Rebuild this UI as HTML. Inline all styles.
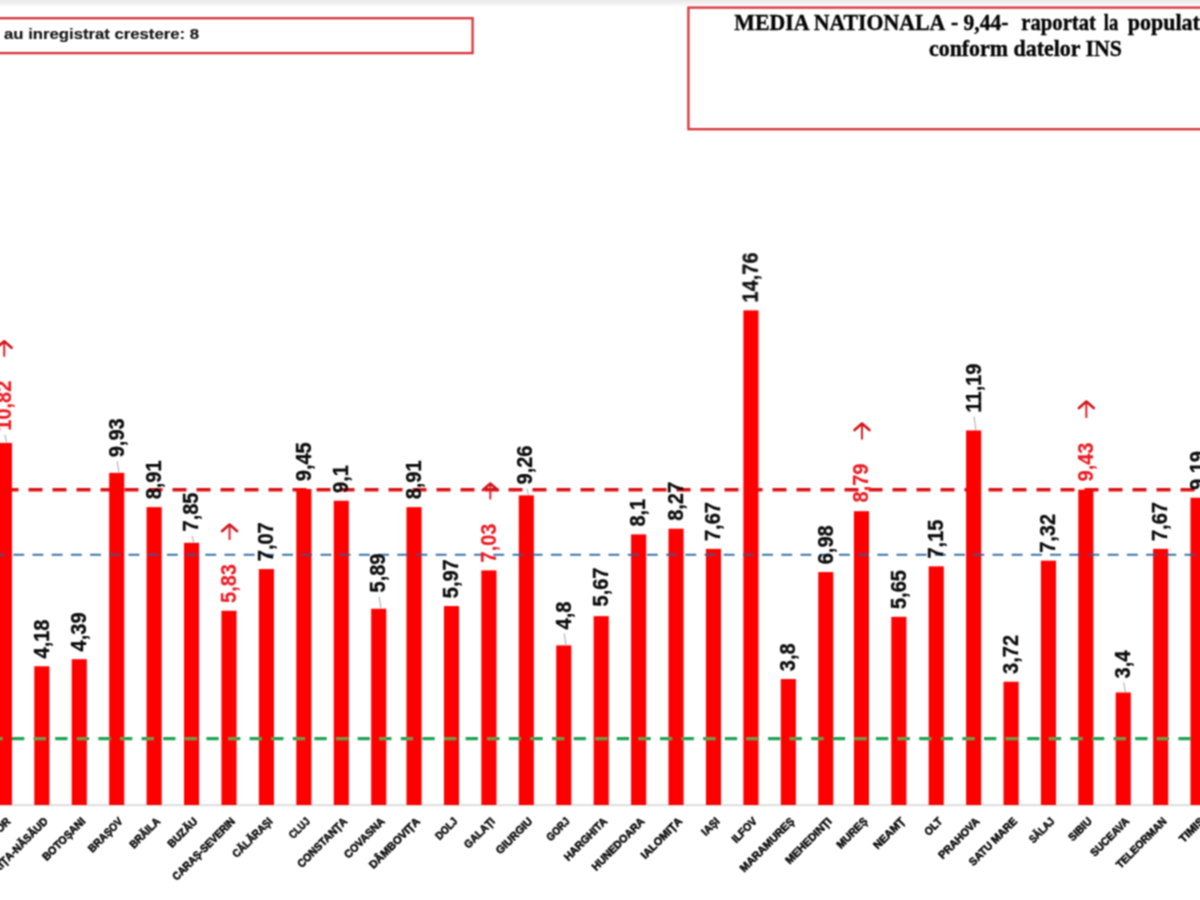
<!DOCTYPE html>
<html lang="ro"><head><meta charset="utf-8"><title>Grafic incidenta judete</title>
<style>
html,body{margin:0;padding:0;background:#fff;}
body{width:1200px;height:900px;overflow:hidden;position:relative;font-family:"Liberation Sans",sans-serif;}
svg{position:absolute;left:0;top:0;display:block;}
.v{font-family:"Liberation Sans",sans-serif;font-weight:bold;font-size:20px;fill:#0c0c0c;stroke:#0c0c0c;stroke-width:0.3;paint-order:stroke;}
.vr{fill:#ea1c24;stroke:#ea1c24;stroke-width:0.15;}
.x{font-family:"Liberation Sans",sans-serif;font-weight:bold;font-size:11px;fill:#0a0a0a;stroke:#0a0a0a;stroke-width:0.55;}
.t1{font-family:"Liberation Serif",serif;font-weight:bold;font-size:22px;fill:#050505;stroke:#050505;stroke-width:0.35;}
.t0{font-family:"Liberation Sans",sans-serif;font-weight:bold;font-size:15px;fill:#141414;stroke:#141414;stroke-width:0.15;}
</style></head><body>
<svg width="1200" height="900" viewBox="0 0 1200 900">
<defs><linearGradient id="tg" x1="0" y1="0" x2="0" y2="1"><stop offset="0" stop-color="#e9e9e9"/><stop offset="0.55" stop-color="#f3f3f3"/><stop offset="1" stop-color="#ffffff"/></linearGradient>
<clipPath id="bc">
<rect x="-3.13" y="442.91" width="15.10" height="362.09"/>
<rect x="34.30" y="666.26" width="15.10" height="138.74"/>
<rect x="71.73" y="659.19" width="15.10" height="145.81"/>
<rect x="109.16" y="472.84" width="15.10" height="332.16"/>
<rect x="146.59" y="507.15" width="15.10" height="297.85"/>
<rect x="184.02" y="542.81" width="15.10" height="262.19"/>
<rect x="221.45" y="610.76" width="15.10" height="194.24"/>
<rect x="258.88" y="569.05" width="15.10" height="235.95"/>
<rect x="296.31" y="488.99" width="15.10" height="316.01"/>
<rect x="333.74" y="500.76" width="15.10" height="304.24"/>
<rect x="371.17" y="608.74" width="15.10" height="196.26"/>
<rect x="406.50" y="507.15" width="15.10" height="297.85"/>
<rect x="443.93" y="606.05" width="15.10" height="198.95"/>
<rect x="481.36" y="570.39" width="15.10" height="234.61"/>
<rect x="518.79" y="495.38" width="15.10" height="309.62"/>
<rect x="556.22" y="645.40" width="15.10" height="159.60"/>
<rect x="593.65" y="616.14" width="15.10" height="188.86"/>
<rect x="631.08" y="534.40" width="15.10" height="270.60"/>
<rect x="668.51" y="528.68" width="15.10" height="276.32"/>
<rect x="705.94" y="548.86" width="15.10" height="256.14"/>
<rect x="743.37" y="310.38" width="15.10" height="494.62"/>
<rect x="780.80" y="679.04" width="15.10" height="125.96"/>
<rect x="818.23" y="572.07" width="15.10" height="232.93"/>
<rect x="853.90" y="511.19" width="15.10" height="293.81"/>
<rect x="891.30" y="616.81" width="15.10" height="188.19"/>
<rect x="928.70" y="566.36" width="15.10" height="238.64"/>
<rect x="966.10" y="430.46" width="15.10" height="374.54"/>
<rect x="1003.50" y="681.73" width="15.10" height="123.27"/>
<rect x="1040.90" y="560.64" width="15.10" height="244.36"/>
<rect x="1078.30" y="489.66" width="15.10" height="315.34"/>
<rect x="1115.70" y="692.49" width="15.10" height="112.51"/>
<rect x="1153.10" y="548.86" width="15.10" height="256.14"/>
<rect x="1190.50" y="497.74" width="15.10" height="307.26"/>
</clipPath>
<filter id="bl" filterUnits="userSpaceOnUse" x="0" y="0" width="1200" height="900" color-interpolation-filters="sRGB"><feConvolveMatrix order="3" kernelMatrix="1 2 1 2 4 2 1 2 1" edgeMode="duplicate" preserveAlpha="false"/></filter>
</defs>
<rect x="0" y="0" width="1200" height="900" fill="#ffffff"/>
<rect x="0" y="0" width="1200" height="7" fill="url(#tg)"/>
<g filter="url(#bl)">
<rect x="-20" y="18.2" width="492.6" height="34.9" fill="#fff" stroke="#d6333a" stroke-width="2.3"/>
<rect x="688.4" y="7.6" width="700" height="121.6" fill="#fff" stroke="#d6333a" stroke-width="2.3"/>
<text class="t0" x="4.0" y="39.1" textLength="195" lengthAdjust="spacingAndGlyphs">au inregistrat crestere: 8</text>
<g transform="translate(0,30.3) scale(1,1.08)">
<text class="t1" x="734.3" y="0" textLength="211" lengthAdjust="spacingAndGlyphs">MEDIA NATIONALA</text>
<text class="t1" x="951" y="0" textLength="57.5" lengthAdjust="spacingAndGlyphs">- 9,44-</text>
<text class="t1" x="1021.3" y="0" textLength="74.7" lengthAdjust="spacingAndGlyphs">raportat</text>
<text class="t1" x="1103.8" y="0" textLength="14.4" lengthAdjust="spacingAndGlyphs">la</text>
<text class="t1" x="1127.7" y="0" textLength="89.3" lengthAdjust="spacingAndGlyphs">populatia</text>
</g>
<g transform="translate(0,55.6) scale(1,1.08)">
<text class="t1" x="929" y="0" textLength="193" lengthAdjust="spacingAndGlyphs">conform datelor INS</text>
</g>
<rect x="0" y="804.3" width="1200" height="1.6" fill="#d6d6d6"/>
<line x1="-19.50" y1="489.70" x2="1230" y2="489.70" stroke="#dc1317" stroke-width="3.50" stroke-dasharray="14.00 10.00" />
<g fill="#fe0000">
<rect x="-3.13" y="442.91" width="15.10" height="362.09"/>
<rect x="34.30" y="666.26" width="15.10" height="138.74"/>
<rect x="71.73" y="659.19" width="15.10" height="145.81"/>
<rect x="109.16" y="472.84" width="15.10" height="332.16"/>
<rect x="146.59" y="507.15" width="15.10" height="297.85"/>
<rect x="184.02" y="542.81" width="15.10" height="262.19"/>
<rect x="221.45" y="610.76" width="15.10" height="194.24"/>
<rect x="258.88" y="569.05" width="15.10" height="235.95"/>
<rect x="296.31" y="488.99" width="15.10" height="316.01"/>
<rect x="333.74" y="500.76" width="15.10" height="304.24"/>
<rect x="371.17" y="608.74" width="15.10" height="196.26"/>
<rect x="406.50" y="507.15" width="15.10" height="297.85"/>
<rect x="443.93" y="606.05" width="15.10" height="198.95"/>
<rect x="481.36" y="570.39" width="15.10" height="234.61"/>
<rect x="518.79" y="495.38" width="15.10" height="309.62"/>
<rect x="556.22" y="645.40" width="15.10" height="159.60"/>
<rect x="593.65" y="616.14" width="15.10" height="188.86"/>
<rect x="631.08" y="534.40" width="15.10" height="270.60"/>
<rect x="668.51" y="528.68" width="15.10" height="276.32"/>
<rect x="705.94" y="548.86" width="15.10" height="256.14"/>
<rect x="743.37" y="310.38" width="15.10" height="494.62"/>
<rect x="780.80" y="679.04" width="15.10" height="125.96"/>
<rect x="818.23" y="572.07" width="15.10" height="232.93"/>
<rect x="853.90" y="511.19" width="15.10" height="293.81"/>
<rect x="891.30" y="616.81" width="15.10" height="188.19"/>
<rect x="928.70" y="566.36" width="15.10" height="238.64"/>
<rect x="966.10" y="430.46" width="15.10" height="374.54"/>
<rect x="1003.50" y="681.73" width="15.10" height="123.27"/>
<rect x="1040.90" y="560.64" width="15.10" height="244.36"/>
<rect x="1078.30" y="489.66" width="15.10" height="315.34"/>
<rect x="1115.70" y="692.49" width="15.10" height="112.51"/>
<rect x="1153.10" y="548.86" width="15.10" height="256.14"/>
<rect x="1190.50" y="497.74" width="15.10" height="307.26"/>
</g>
<line x1="-25.10" y1="554.70" x2="1230" y2="554.70" stroke="#3b74ab" stroke-width="2.15" stroke-dasharray="10.90 8.30" />
<line x1="-25.10" y1="554.70" x2="1230" y2="554.70" stroke="#7a3a62" stroke-width="2.15" stroke-dasharray="10.90 8.30" clip-path="url(#bc)"/>
<line x1="-31.20" y1="738.70" x2="1230" y2="738.70" stroke="#1fa455" stroke-width="3.30" stroke-dasharray="12.30 9.30" />
<line x1="-31.20" y1="738.70" x2="1230" y2="738.70" stroke="#7f9648" stroke-width="3.30" stroke-dasharray="12.30 9.30" clip-path="url(#bc)"/>
<text class="v vr" transform="translate(11.27,429.20) rotate(-90) scale(1,1.1)" x="-1.5" y="0">10,82</text>
<line x1="4.82" y1="434.70" x2="6.62" y2="442.41" stroke="#a6a6a6" stroke-width="1"/>
<path d="M4.22 356.70 L4.22 342.20" fill="none" stroke="#de1f28" stroke-width="2.0"/>
<path d="M-3.18 347.70 L4.22 341.30 L11.62 347.70" fill="none" stroke="#d0171d" stroke-width="2.7" stroke-linecap="round" stroke-linejoin="round"/>
<text class="v" transform="translate(48.70,656.96) rotate(-90) scale(1,1.1)" x="-1.5" y="0">4,18</text>
<text class="v" transform="translate(86.13,649.89) rotate(-90) scale(1,1.1)" x="-1.5" y="0">4,39</text>
<text class="v" transform="translate(123.56,455.80) rotate(-90) scale(1,1.1)" x="-1.5" y="0">9,93</text>
<line x1="117.11" y1="461.30" x2="118.91" y2="472.34" stroke="#a6a6a6" stroke-width="1"/>
<text class="v" transform="translate(160.99,497.85) rotate(-90) scale(1,1.1)" x="-1.5" y="0">8,91</text>
<text class="v" transform="translate(198.42,530.00) rotate(-90) scale(1,1.1)" x="-1.5" y="0">7,85</text>
<line x1="191.97" y1="535.50" x2="193.77" y2="542.31" stroke="#a6a6a6" stroke-width="1"/>
<text class="v vr" transform="translate(235.85,601.50) rotate(-90) scale(1,1.1)" x="-1.5" y="0">5,83</text>
<path d="M229.55 539.90 L229.55 525.50" fill="none" stroke="#de1f28" stroke-width="2.0"/>
<path d="M222.15 531.00 L229.55 524.60 L236.95 531.00" fill="none" stroke="#d0171d" stroke-width="2.7" stroke-linecap="round" stroke-linejoin="round"/>
<text class="v" transform="translate(273.28,559.75) rotate(-90) scale(1,1.1)" x="-1.5" y="0">7,07</text>
<text class="v" transform="translate(310.71,479.69) rotate(-90) scale(1,1.1)" x="-1.5" y="0">9,45</text>
<text class="v" transform="translate(348.14,491.46) rotate(-90) scale(1,1.1)" x="-1.5" y="0">9,1</text>
<text class="v" transform="translate(384.97,591.00) rotate(-90) scale(1,1.1)" x="-1.5" y="0">5,89</text>
<line x1="379.12" y1="596.50" x2="380.92" y2="608.24" stroke="#a6a6a6" stroke-width="1"/>
<text class="v" transform="translate(420.90,497.85) rotate(-90) scale(1,1.1)" x="-1.5" y="0">8,91</text>
<text class="v" transform="translate(458.33,596.75) rotate(-90) scale(1,1.1)" x="-1.5" y="0">5,97</text>
<text class="v vr" transform="translate(495.76,561.00) rotate(-90) scale(1,1.1)" x="-1.5" y="0">7,03</text>
<path d="M490.31 499.40 L490.31 484.50" fill="none" stroke="#de1f28" stroke-width="2.0"/>
<path d="M482.91 490.00 L490.31 483.60 L497.71 490.00" fill="none" stroke="#d0171d" stroke-width="2.7" stroke-linecap="round" stroke-linejoin="round"/>
<text class="v" transform="translate(531.99,483.00) rotate(-90) scale(1,1.1)" x="-1.5" y="0">9,26</text>
<line x1="526.74" y1="488.50" x2="528.54" y2="494.88" stroke="#a6a6a6" stroke-width="1"/>
<text class="v" transform="translate(570.62,628.00) rotate(-90) scale(1,1.1)" x="-1.5" y="0">4,8</text>
<line x1="564.17" y1="633.50" x2="565.97" y2="644.90" stroke="#a6a6a6" stroke-width="1"/>
<text class="v" transform="translate(608.05,605.00) rotate(-90) scale(1,1.1)" x="-1.5" y="0">5,67</text>
<text class="v" transform="translate(645.48,525.10) rotate(-90) scale(1,1.1)" x="-1.5" y="0">8,1</text>
<text class="v" transform="translate(682.91,519.38) rotate(-90) scale(1,1.1)" x="-1.5" y="0">8,27</text>
<text class="v" transform="translate(720.34,539.56) rotate(-90) scale(1,1.1)" x="-1.5" y="0">7,67</text>
<text class="v" transform="translate(757.57,301.08) rotate(-90) scale(1,1.1)" x="-1.5" y="0">14,76</text>
<text class="v" transform="translate(795.20,669.74) rotate(-90) scale(1,1.1)" x="-1.5" y="0">3,8</text>
<text class="v" transform="translate(832.63,562.77) rotate(-90) scale(1,1.1)" x="-1.5" y="0">6,98</text>
<text class="v vr" transform="translate(868.30,501.00) rotate(-90) scale(1,1.1)" x="-1.5" y="0">8,79</text>
<path d="M862.00 439.40 L862.00 424.50" fill="none" stroke="#de1f28" stroke-width="2.0"/>
<path d="M854.60 430.00 L862.00 423.60 L869.40 430.00" fill="none" stroke="#d0171d" stroke-width="2.7" stroke-linecap="round" stroke-linejoin="round"/>
<text class="v" transform="translate(905.70,607.51) rotate(-90) scale(1,1.1)" x="-1.5" y="0">5,65</text>
<text class="v" transform="translate(943.10,557.06) rotate(-90) scale(1,1.1)" x="-1.5" y="0">7,15</text>
<text class="v" transform="translate(980.50,411.00) rotate(-90) scale(1,1.1)" x="-1.5" y="0">11,19</text>
<line x1="974.05" y1="416.50" x2="975.85" y2="429.96" stroke="#a6a6a6" stroke-width="1"/>
<text class="v" transform="translate(1017.90,672.43) rotate(-90) scale(1,1.1)" x="-1.5" y="0">3,72</text>
<text class="v" transform="translate(1055.30,551.34) rotate(-90) scale(1,1.1)" x="-1.5" y="0">7,32</text>
<text class="v vr" transform="translate(1092.70,480.00) rotate(-90) scale(1,1.1)" x="-1.5" y="0">9,43</text>
<path d="M1086.35 417.90 L1086.35 402.50" fill="none" stroke="#de1f28" stroke-width="2.0"/>
<path d="M1078.95 408.00 L1086.35 401.60 L1093.75 408.00" fill="none" stroke="#d0171d" stroke-width="2.7" stroke-linecap="round" stroke-linejoin="round"/>
<text class="v" transform="translate(1129.60,677.00) rotate(-90) scale(1,1.1)" x="-1.5" y="0">3,4</text>
<line x1="1123.65" y1="682.50" x2="1125.45" y2="691.99" stroke="#a6a6a6" stroke-width="1"/>
<text class="v" transform="translate(1166.90,539.56) rotate(-90) scale(1,1.1)" x="-1.5" y="0">7,67</text>
<text class="v" transform="translate(1204.90,488.44) rotate(-90) scale(1,1.1)" x="-1.5" y="0">9,19</text>
<text class="x" transform="translate(11.12,822.00) rotate(-45)" x="0" y="0" text-anchor="end" textLength="34.0" lengthAdjust="spacingAndGlyphs">BIHOR</text>
<text class="x" transform="translate(48.55,822.00) rotate(-45)" x="0" y="0" text-anchor="end" textLength="96.5" lengthAdjust="spacingAndGlyphs">BISTRIȚA-NĂSĂUD</text>
<text class="x" transform="translate(85.98,822.00) rotate(-45)" x="0" y="0" text-anchor="end" textLength="55.6" lengthAdjust="spacingAndGlyphs">BOTOȘANI</text>
<text class="x" transform="translate(123.41,822.00) rotate(-45)" x="0" y="0" text-anchor="end" textLength="43.7" lengthAdjust="spacingAndGlyphs">BRAȘOV</text>
<text class="x" transform="translate(160.84,822.00) rotate(-45)" x="0" y="0" text-anchor="end" textLength="38.1" lengthAdjust="spacingAndGlyphs">BRĂILA</text>
<text class="x" transform="translate(198.27,822.00) rotate(-45)" x="0" y="0" text-anchor="end" textLength="37.2" lengthAdjust="spacingAndGlyphs">BUZĂU</text>
<text class="x" transform="translate(235.70,822.00) rotate(-45)" x="0" y="0" text-anchor="end" textLength="83.3" lengthAdjust="spacingAndGlyphs">CARAȘ-SEVERIN</text>
<text class="x" transform="translate(273.13,822.00) rotate(-45)" x="0" y="0" text-anchor="end" textLength="51.3" lengthAdjust="spacingAndGlyphs">CĂLĂRAȘI</text>
<text class="x" transform="translate(310.56,822.00) rotate(-45)" x="0" y="0" text-anchor="end" textLength="24.4" lengthAdjust="spacingAndGlyphs">CLUJ</text>
<text class="x" transform="translate(347.99,822.00) rotate(-45)" x="0" y="0" text-anchor="end" textLength="65.5" lengthAdjust="spacingAndGlyphs">CONSTANȚA</text>
<text class="x" transform="translate(385.42,822.00) rotate(-45)" x="0" y="0" text-anchor="end" textLength="52.2" lengthAdjust="spacingAndGlyphs">COVASNA</text>
<text class="x" transform="translate(420.75,822.00) rotate(-45)" x="0" y="0" text-anchor="end" textLength="66.9" lengthAdjust="spacingAndGlyphs">DÂMBOVIȚA</text>
<text class="x" transform="translate(458.18,822.00) rotate(-45)" x="0" y="0" text-anchor="end" textLength="26.0" lengthAdjust="spacingAndGlyphs">DOLJ</text>
<text class="x" transform="translate(495.61,822.00) rotate(-45)" x="0" y="0" text-anchor="end" textLength="38.2" lengthAdjust="spacingAndGlyphs">GALAȚI</text>
<text class="x" transform="translate(533.04,822.00) rotate(-45)" x="0" y="0" text-anchor="end" textLength="46.3" lengthAdjust="spacingAndGlyphs">GIURGIU</text>
<text class="x" transform="translate(570.47,822.00) rotate(-45)" x="0" y="0" text-anchor="end" textLength="27.8" lengthAdjust="spacingAndGlyphs">GORJ</text>
<text class="x" transform="translate(607.90,822.00) rotate(-45)" x="0" y="0" text-anchor="end" textLength="55.9" lengthAdjust="spacingAndGlyphs">HARGHITA</text>
<text class="x" transform="translate(645.33,822.00) rotate(-45)" x="0" y="0" text-anchor="end" textLength="69.5" lengthAdjust="spacingAndGlyphs">HUNEDOARA</text>
<text class="x" transform="translate(682.76,822.00) rotate(-45)" x="0" y="0" text-anchor="end" textLength="53.1" lengthAdjust="spacingAndGlyphs">IALOMIȚA</text>
<text class="x" transform="translate(720.19,822.00) rotate(-45)" x="0" y="0" text-anchor="end" textLength="20.3" lengthAdjust="spacingAndGlyphs">IAȘI</text>
<text class="x" transform="translate(757.62,822.00) rotate(-45)" x="0" y="0" text-anchor="end" textLength="30.4" lengthAdjust="spacingAndGlyphs">ILFOV</text>
<text class="x" transform="translate(795.05,822.00) rotate(-45)" x="0" y="0" text-anchor="end" textLength="71.8" lengthAdjust="spacingAndGlyphs">MARAMUREȘ</text>
<text class="x" transform="translate(832.48,822.00) rotate(-45)" x="0" y="0" text-anchor="end" textLength="60.5" lengthAdjust="spacingAndGlyphs">MEHEDINȚI</text>
<text class="x" transform="translate(868.15,822.00) rotate(-45)" x="0" y="0" text-anchor="end" textLength="38.4" lengthAdjust="spacingAndGlyphs">MUREȘ</text>
<text class="x" transform="translate(905.55,822.00) rotate(-45)" x="0" y="0" text-anchor="end" textLength="39.3" lengthAdjust="spacingAndGlyphs">NEAMȚ</text>
<text class="x" transform="translate(942.95,822.00) rotate(-45)" x="0" y="0" text-anchor="end" textLength="20.1" lengthAdjust="spacingAndGlyphs">OLT</text>
<text class="x" transform="translate(980.35,822.00) rotate(-45)" x="0" y="0" text-anchor="end" textLength="53.0" lengthAdjust="spacingAndGlyphs">PRAHOVA</text>
<text class="x" transform="translate(1017.75,822.00) rotate(-45)" x="0" y="0" text-anchor="end" textLength="62.8" lengthAdjust="spacingAndGlyphs">SATU MARE</text>
<text class="x" transform="translate(1055.15,822.00) rotate(-45)" x="0" y="0" text-anchor="end" textLength="30.7" lengthAdjust="spacingAndGlyphs">SĂLAJ</text>
<text class="x" transform="translate(1092.55,822.00) rotate(-45)" x="0" y="0" text-anchor="end" textLength="28.0" lengthAdjust="spacingAndGlyphs">SIBIU</text>
<text class="x" transform="translate(1129.95,822.00) rotate(-45)" x="0" y="0" text-anchor="end" textLength="49.7" lengthAdjust="spacingAndGlyphs">SUCEAVA</text>
<text class="x" transform="translate(1167.35,822.00) rotate(-45)" x="0" y="0" text-anchor="end" textLength="66.4" lengthAdjust="spacingAndGlyphs">TELEORMAN</text>
<text class="x" transform="translate(1204.75,822.00) rotate(-45)" x="0" y="0" text-anchor="end" textLength="29.9" lengthAdjust="spacingAndGlyphs">TIMIȘ</text>
</g>
</svg>
</body></html>
